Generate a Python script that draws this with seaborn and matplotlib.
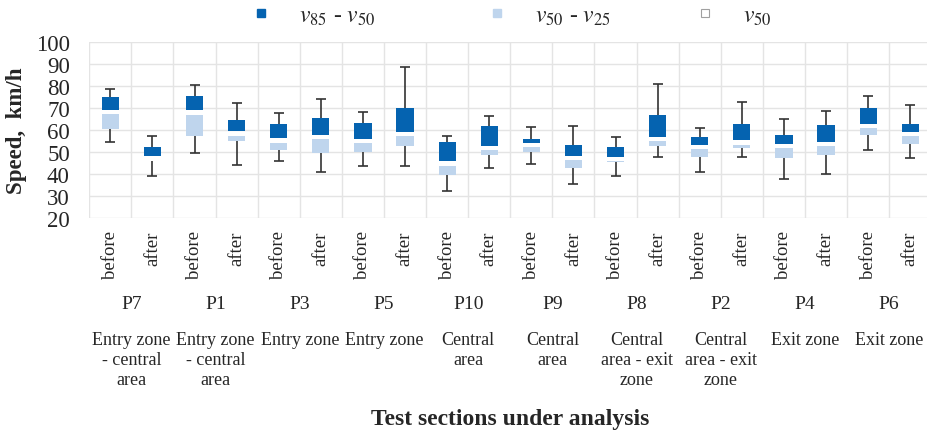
import numpy as np
import pandas as pd
import matplotlib
matplotlib.use("Agg")
import matplotlib.pyplot as plt
import seaborn as sns
from matplotlib.lines import Line2D
from matplotlib.transforms import blended_transform_factory

# ---------------- data ----------------
sections = ["P7", "P1", "P3", "P5", "P10", "P9", "P8", "P2", "P4", "P6"]
zones = ["Entry zone\n- central\narea", "Entry zone\n- central\narea",
         "Entry zone", "Entry zone",
         "Central\narea", "Central\narea",
         "Central\narea - exit\nzone", "Central\narea - exit\nzone",
         "Exit zone", "Exit zone"]
periods = ["before", "after"]

v_max = [78.8, 57.2, 80.6, 72.4, 68.0, 74.2, 68.3, 88.9, 57.2, 66.5,
         61.5, 61.9, 57.1, 81.0, 61.0, 72.7, 65.2, 68.6, 75.6, 71.3]
v85 = [75.0, 52.5, 75.4, 64.6, 62.8, 65.6, 63.1, 70.0, 54.8, 61.9,
       56.1, 53.3, 52.3, 67.1, 57.1, 63.0, 57.7, 62.5, 70.0, 62.8]
v50 = [67.4, 46.1, 67.0, 57.5, 54.3, 56.0, 54.0, 57.3, 43.9, 50.8,
       52.2, 46.2, 45.9, 55.0, 51.4, 53.4, 51.9, 52.8, 60.9, 57.3]
v25 = [60.4, 45.9, 57.4, 55.1, 51.1, 49.6, 49.9, 53.0, 39.8, 48.7,
       50.1, 42.9, 45.4, 52.8, 47.8, 52.0, 47.3, 48.9, 58.0, 53.9]
v_min = [54.6, 39.3, 49.5, 44.0, 45.8, 41.1, 43.9, 43.9, 32.3, 42.9,
         44.6, 35.5, 39.3, 47.6, 40.8, 47.6, 37.9, 39.9, 50.8, 47.2]

# ---------------- style ----------------
MEDIAN_BAND = 2.0
DARK = "#0563B0"
LIGHT = "#BFD5ED"
WHISK = "#333333"
GRID = "#E4E4E4"
BAR_W = 0.41

sns.set_theme(style="white")
plt.rcParams["font.family"] = ["Liberation Serif", "DejaVu Serif"]
plt.rcParams["mathtext.fontset"] = "stix"

labels = [f"{s} {p}" for s in sections for p in periods]
n = len(labels)
df = pd.DataFrame({"bar": labels, "v_min": v_min, "v25": v25, "v50": v50,
                   "v85": v85, "v_max": v_max})
df["light"] = df["v50"] - df["v25"]
df["med_top"] = df["v50"] + MEDIAN_BAND
df["dark"] = df["v85"] - df["med_top"]

fig = plt.figure(figsize=(9.28, 4.31), dpi=100)
ax = fig.add_axes([89.3 / 928, 1 - 219 / 431, 842 / 928, 175.7 / 431])

common = dict(x="bar", order=labels, width=BAR_W, saturation=1,
              errorbar=None, linewidth=0, ax=ax, zorder=3)
sns.barplot(data=df, y="light", bottom=df["v25"].to_numpy(), color=LIGHT, **common)
sns.barplot(data=df, y="dark", bottom=df["med_top"].to_numpy(), color=DARK, **common)

xpos = np.arange(n)
up = ax.errorbar(xpos, df["v85"], yerr=[np.zeros(n), df["v_max"] - df["v85"]],
                 fmt="none", ecolor=WHISK, elinewidth=1.2, capsize=3.3,
                 capthick=1.2, zorder=2)
for cl in up[1]:
    if np.allclose(cl.get_ydata(), df["v85"]):
        cl.set_visible(False)
lo = ax.errorbar(xpos, df["v25"], yerr=[df["v25"] - df["v_min"], np.zeros(n)],
                 fmt="none", ecolor=WHISK, elinewidth=1.2, capsize=3.3,
                 capthick=1.2, zorder=2)
for cl in lo[1]:
    if np.allclose(cl.get_ydata(), df["v25"]):
        cl.set_visible(False)

# axes formatting
ax.set_ylim(20, 100)
ax.set_yticks(np.arange(20, 101, 10))
ax.set_xlim(-0.5, n - 0.5)
ax.set_xticks(xpos)
ax.set_xticklabels([p for _ in sections for p in periods], rotation=90,
                   fontsize=13.5, va="top", ha="center")
ax.set_xticks(np.arange(-0.5, n, 1), minor=True)
ax.tick_params(axis="x", which="both", length=0, pad=9)
ax.tick_params(axis="y", length=0, pad=14, labelsize=16.5)
ax.grid(False)
ax.grid(True, which="minor", axis="x", color=GRID, linewidth=1.0, zorder=0)
ax.grid(True, which="major", axis="y", color=GRID, linewidth=1.0, zorder=0)
ax.set_axisbelow(True)
for sp in ax.spines.values():
    sp.set_visible(False)
ax.set_xlabel("")
ax.set_ylabel("Speed,  km/h", fontsize=16.5, fontweight="bold", va="center")
ax.yaxis.set_label_coords(-0.0859, 0.5)

trans = blended_transform_factory(ax.transData, ax.transAxes)
for g, (sec, zone) in enumerate(zip(sections, zones)):
    ax.text(2 * g + 0.5, -0.489, sec, transform=trans, ha="center",
            va="center", fontsize=14)
    ax.text(2 * g + 0.5, -0.643, zone, transform=trans, ha="center",
            va="top", fontsize=13, linespacing=1.25, multialignment="center")

fig.text(510 / 928, 11 / 431, "Test sections under analysis", ha="center",
         va="center", fontsize=17, fontweight="bold")

# legend: three entries positioned like the original
leg_items = [
    (Line2D([], [], marker="s", linestyle="none", markersize=6,
            markerfacecolor=DARK, markeredgecolor=DARK), r"$v_{85}$ - $v_{50}$", 249),
    (Line2D([], [], marker="s", linestyle="none", markersize=6,
            markerfacecolor=LIGHT, markeredgecolor=LIGHT), r"$v_{50}$ - $v_{25}$", 485),
    (Line2D([], [], marker="s", linestyle="none", markersize=6,
            markerfacecolor="white", markeredgecolor="#A0A0A0",
            markeredgewidth=0.8), r"$v_{50}$", 693),
]
for h, lab, xl in leg_items:
    fig.legend([h], [lab], loc="center left", bbox_to_anchor=(xl / 928, 1 - 17 / 431),
               frameon=False, fontsize=17, handlelength=1.0, handletextpad=1.1,
               borderpad=0, borderaxespad=0)

fig.savefig("out.png", dpi=100)
